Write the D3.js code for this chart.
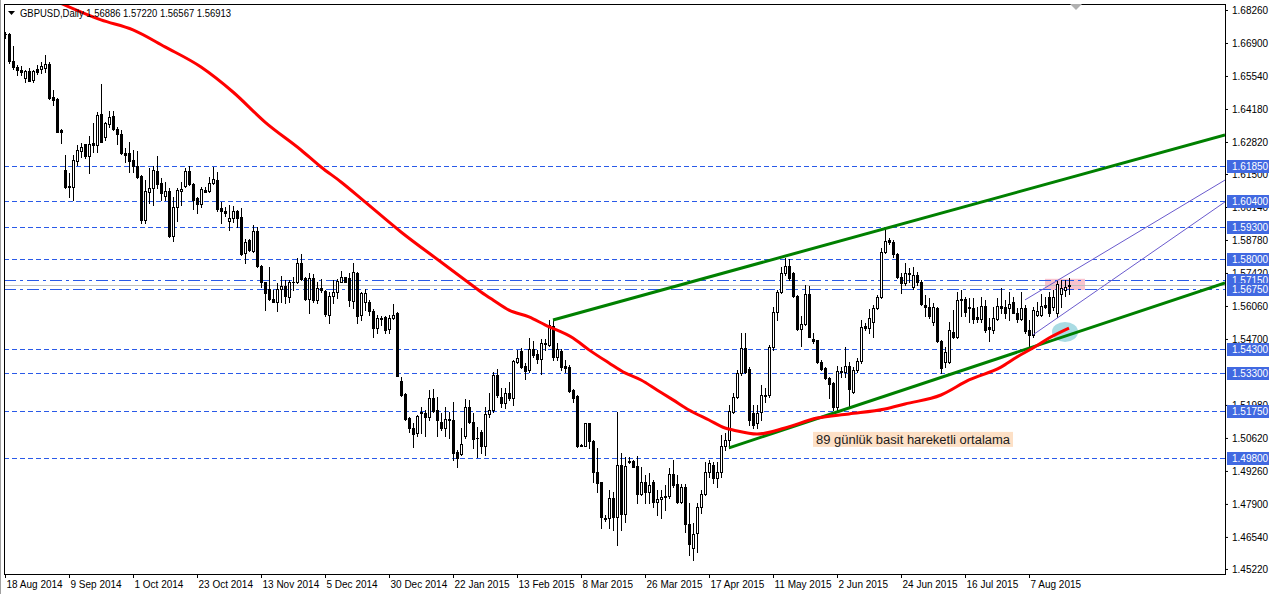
<!DOCTYPE html>
<html><head><meta charset="utf-8">
<script src="https://cdn.jsdelivr.net/npm/d3@7"></script>
<style>body{margin:0;background:#fff;overflow:hidden}svg{display:block}</style>
</head><body><div id="chart"></div>
<script>
const symbolTitle = "GBPUSD,Daily";
const open = [1.6729,1.6727,1.6616,1.6591,1.6579,1.6544,1.6575,1.6536,1.6582,1.6582,
1.6587,1.6603,1.6467,1.6460,1.6331,1.6167,1.6100,1.6097,1.6204,1.6246,
1.6274,1.6225,1.6278,1.6270,1.6397,1.6301,1.6357,1.6389,1.6334,1.6315,
1.6238,1.6238,1.6208,1.6183,1.6143,1.5960,1.6077,1.6091,1.6164,1.6113,
1.6061,1.6081,1.5895,1.6015,1.6081,1.6100,1.6162,1.6109,1.6051,1.6025,
1.6084,1.6079,1.6112,1.6125,1.6010,1.5998,1.5957,1.5967,1.5998,1.5974,
1.5823,1.5878,1.5834,1.5915,1.5770,1.5703,1.5675,1.5635,1.5624,1.5675,
1.5689,1.5642,1.5704,1.5703,1.5785,1.5722,1.5635,1.5722,1.5631,1.5681,
1.5668,1.5568,1.5647,1.5663,1.5706,1.5724,1.5720,1.5628,1.5743,1.5567,
1.5621,1.5622,1.5587,1.5515,1.5556,1.5561,1.5511,1.5556,1.5579,1.5297,
1.5243,1.5146,1.5103,1.5082,1.5164,1.5166,1.5150,1.5226,1.5177,1.5126,
1.5105,1.5136,1.5136,1.5004,1.4994,1.5070,1.5188,1.5129,1.5062,1.5085,
1.5030,1.5160,1.5177,1.5322,1.5232,1.5207,1.5246,1.5228,1.5376,1.5421,
1.5359,1.5342,1.5427,1.5408,1.5387,1.5448,1.5446,1.5524,1.5397,1.5421,
1.5359,1.5354,1.5260,1.5235,1.5034,1.5030,1.5123,1.5050,1.4921,1.4880,
1.4731,1.4731,1.4816,1.4735,1.4949,1.4747,1.4962,1.4967,1.4946,1.4833,
1.4879,1.4840,1.4879,1.4799,1.4809,1.4817,1.4821,1.4912,1.4872,1.4799,
1.4858,1.4706,1.4610,1.4669,1.4776,1.4833,1.4922,1.4950,1.4898,1.4921,
1.5027,1.5054,1.5170,1.5230,1.5331,1.5432,1.5345,1.5165,1.5124,1.5170,
1.5235,1.5239,1.5436,1.5580,1.5665,1.5741,1.5771,1.5743,1.5647,1.5510,
1.5530,1.5655,1.5471,1.5466,1.5376,1.5349,1.5308,1.5287,1.5191,1.5338,
1.5333,1.5359,1.5250,1.5342,1.5379,1.5524,1.5515,1.5540,1.5597,1.5642,
1.5827,1.5878,1.5871,1.5819,1.5727,1.5700,1.5743,1.5685,1.5734,1.5706,
1.5610,1.5603,1.5541,1.5597,1.5460,1.5376,1.5376,1.5497,1.5480,1.5634,
1.5634,1.5601,1.5597,1.5561,1.5552,1.5606,1.5518,1.5507,1.5552,1.5606,
1.5601,1.5597,1.5624,1.5579,1.5552,1.5597,1.5507,1.5486,1.5570,1.5570,
1.5610,1.5645,1.5603,1.5576,1.5655,1.5672,1.56886];
const high = [1.6735,1.6731,1.6678,1.6599,1.6595,1.6579,1.6588,1.6579,1.6599,1.6613,
1.6640,1.6610,1.6496,1.6465,1.6336,1.6228,1.6154,1.6228,1.6270,1.6278,
1.6274,1.6308,1.6360,1.6406,1.6521,1.6365,1.6411,1.6411,1.6345,1.6331,
1.6256,1.6283,1.6247,1.6245,1.6147,1.6125,1.6174,1.6182,1.6224,1.6132,
1.6118,1.6091,1.6056,1.6091,1.6118,1.6173,1.6183,1.6112,1.6056,1.6095,
1.6095,1.6137,1.6180,1.6157,1.6036,1.6015,1.6022,1.6018,1.6002,1.6010,
1.5882,1.5882,1.5940,1.5933,1.5774,1.5705,1.5768,1.5672,1.5701,1.5730,
1.5713,1.5713,1.5726,1.5802,1.5820,1.5727,1.5740,1.5738,1.5706,1.5717,
1.5672,1.5665,1.5713,1.5716,1.5751,1.5726,1.5740,1.5782,1.5747,1.5665,
1.5677,1.5631,1.5593,1.5570,1.5565,1.5565,1.5570,1.5615,1.5581,1.5315,
1.5246,1.5150,1.5124,1.5158,1.5191,1.5177,1.5260,1.5263,1.5232,1.5164,
1.5191,1.5171,1.5209,1.5012,1.5103,1.5221,1.5218,1.5164,1.5109,1.5093,
1.5191,1.5246,1.5335,1.5345,1.5267,1.5267,1.5293,1.5383,1.5425,1.5432,
1.5370,1.5472,1.5460,1.5425,1.5468,1.5468,1.5548,1.5548,1.5452,1.5427,
1.5383,1.5363,1.5264,1.5239,1.5038,1.5125,1.5125,1.5054,1.5019,1.4882,
1.4744,1.4847,1.4841,1.5167,1.5001,1.4984,1.4984,1.4971,1.4988,1.4944,
1.4909,1.4916,1.4889,1.4847,1.4847,1.4868,1.4937,1.4971,1.4909,1.4874,
1.4874,1.4792,1.4710,1.4792,1.4847,1.4964,1.4971,1.4964,1.4964,1.5075,
1.5082,1.5198,1.5248,1.5342,1.5494,1.5494,1.5355,1.5198,1.5198,1.5280,
1.5267,1.5445,1.5603,1.5672,1.5768,1.5802,1.5798,1.5747,1.5651,1.5563,
1.5693,1.5689,1.5494,1.5466,1.5383,1.5356,1.5315,1.5294,1.5360,1.5356,
1.5438,1.5376,1.5356,1.5390,1.5548,1.5535,1.5593,1.5611,1.5651,1.5844,
1.5923,1.5885,1.5878,1.5823,1.5741,1.5782,1.5761,1.5768,1.5747,1.5713,
1.5651,1.5638,1.5617,1.5601,1.5466,1.5438,1.5541,1.5589,1.5665,1.5670,
1.5645,1.5638,1.5638,1.5603,1.5645,1.5631,1.5556,1.5603,1.5638,1.5680,
1.5631,1.5665,1.5645,1.5597,1.5665,1.5610,1.5548,1.5603,1.5624,1.5655,
1.5645,1.5665,1.5672,1.5709,1.5713,1.5713,1.57220];
const low = [1.6711,1.6608,1.6583,1.6558,1.6558,1.6530,1.6533,1.6530,1.6561,1.6565,
1.6572,1.6459,1.6435,1.6322,1.6278,1.6091,1.6055,1.6043,1.6187,1.6220,
1.6216,1.6155,1.6242,1.6242,1.6281,1.6290,1.6345,1.6331,1.6273,1.6234,
1.6201,1.6159,1.6159,1.6135,1.5947,1.5947,1.6029,1.6022,1.6091,1.6043,
1.6043,1.5890,1.5873,1.5956,1.6022,1.6097,1.6105,1.6006,1.5988,1.6013,
1.6075,1.6077,1.6109,1.5998,1.5947,1.5977,1.5919,1.5953,1.5933,1.5816,
1.5784,1.5833,1.5830,1.5768,1.5685,1.5589,1.5631,1.5624,1.5584,1.5624,
1.5620,1.5624,1.5672,1.5701,1.5713,1.5631,1.5576,1.5624,1.5617,1.5665,
1.5563,1.5536,1.5617,1.5638,1.5703,1.5703,1.5605,1.5597,1.5535,1.5548,
1.5589,1.5570,1.5480,1.5494,1.5528,1.5496,1.5494,1.5552,1.5318,1.5235,
1.5136,1.5088,1.5026,1.5068,1.5082,1.5068,1.5136,1.5170,1.5068,1.5095,
1.5068,1.5061,1.4971,1.4943,1.4992,1.5061,1.5125,1.5019,1.4984,1.4999,
1.4992,1.5150,1.5170,1.5230,1.5191,1.5184,1.5218,1.5198,1.5372,1.5350,
1.5303,1.5335,1.5397,1.5370,1.5326,1.5425,1.5439,1.5383,1.5383,1.5342,
1.5335,1.5253,1.5211,1.5024,1.5027,1.5027,1.5019,1.4882,1.4841,1.4690,
1.4721,1.4690,1.4683,1.4621,1.4683,1.4717,1.4958,1.4941,1.4792,1.4826,
1.4795,1.4792,1.4778,1.4744,1.4731,1.4765,1.4813,1.4861,1.4792,1.4792,
1.4675,1.4580,1.4559,1.4593,1.4751,1.4826,1.4903,1.4878,1.4861,1.4903,
1.5012,1.5019,1.5164,1.5226,1.5322,1.5329,1.5115,1.5101,1.5103,1.5136,
1.5211,1.5232,1.5425,1.5548,1.5658,1.5734,1.5713,1.5645,1.5507,1.5439,
1.5528,1.5477,1.5452,1.5370,1.5342,1.5303,1.5226,1.5177,1.5170,1.5315,
1.5315,1.5191,1.5246,1.5335,1.5372,1.5507,1.5494,1.5480,1.5593,1.5638,
1.5823,1.5862,1.5809,1.5720,1.5661,1.5693,1.5706,1.5678,1.5693,1.5610,
1.5563,1.5556,1.5528,1.5456,1.5329,1.5356,1.5370,1.5473,1.5473,1.5563,
1.5563,1.5541,1.5536,1.5541,1.5541,1.5500,1.5460,1.5494,1.5548,1.5576,
1.5556,1.5548,1.5576,1.5541,1.5548,1.5494,1.5432,1.5480,1.5563,1.5563,
1.5597,1.5563,1.5589,1.5561,1.5601,1.5647,1.56567];
const close = [1.6726,1.6614,1.6589,1.6579,1.6570,1.6573,1.6535,1.6573,1.6572,1.6595,
1.6603,1.6465,1.6456,1.6324,1.6322,1.6095,1.6098,1.6208,1.6249,1.6261,
1.6225,1.6274,1.6270,1.6393,1.6283,1.6361,1.6383,1.6334,1.6313,1.6237,
1.6230,1.6205,1.6183,1.6139,1.5960,1.6081,1.6092,1.6167,1.6109,1.6071,
1.6081,1.5894,1.6013,1.6084,1.6087,1.6162,1.6108,1.6043,1.6025,1.6087,
1.6077,1.6112,1.6128,1.6006,1.5996,1.5988,1.5967,1.5998,1.5970,1.5820,
1.5869,1.5837,1.5915,1.5772,1.5703,1.5660,1.5635,1.5624,1.5675,1.5689,
1.5649,1.5703,1.5706,1.5785,1.5719,1.5635,1.5722,1.5631,1.5681,1.5672,
1.5573,1.5647,1.5663,1.5710,1.5726,1.5706,1.5631,1.5745,1.5565,1.5660,
1.5660,1.5584,1.5515,1.5556,1.5552,1.5507,1.5556,1.5570,1.5319,1.5239,
1.5140,1.5103,1.5079,1.5154,1.5171,1.5150,1.5226,1.5174,1.5136,1.5105,
1.5140,1.5140,1.5001,1.4980,1.5036,1.5188,1.5129,1.5056,1.5061,1.5030,
1.5160,1.5177,1.5322,1.5239,1.5207,1.5246,1.5228,1.5379,1.5390,1.5354,
1.5339,1.5427,1.5404,1.5387,1.5452,1.5452,1.5528,1.5397,1.5427,1.5356,
1.5352,1.5257,1.5228,1.5027,1.5030,1.5123,1.5050,1.4921,1.4878,1.4735,
1.4727,1.4816,1.4735,1.4949,1.4747,1.4946,1.4967,1.4944,1.4833,1.4881,
1.4838,1.4868,1.4799,1.4809,1.4817,1.4821,1.4912,1.4868,1.4799,1.4858,
1.4706,1.4624,1.4665,1.4776,1.4833,1.4922,1.4957,1.4898,1.4921,1.5027,
1.5054,1.5174,1.5230,1.5331,1.5432,1.5335,1.5136,1.5115,1.5165,1.5239,
1.5239,1.5436,1.5580,1.5665,1.5741,1.5771,1.5720,1.5647,1.5510,1.5530,
1.5655,1.5480,1.5460,1.5376,1.5346,1.5308,1.5283,1.5191,1.5338,1.5333,
1.5359,1.5264,1.5342,1.5379,1.5521,1.5515,1.5556,1.5597,1.5642,1.5827,
1.5874,1.5871,1.5819,1.5727,1.5700,1.5741,1.5738,1.5734,1.5706,1.5613,
1.5601,1.5563,1.5603,1.5460,1.5350,1.5417,1.5507,1.5480,1.5631,1.5629,
1.5583,1.5597,1.5552,1.5552,1.5606,1.5507,1.5510,1.5556,1.5606,1.5597,
1.5579,1.5613,1.5579,1.5552,1.5597,1.5503,1.5486,1.5589,1.5586,1.5606,
1.5603,1.5579,1.5644,1.5695,1.5679,1.5686,1.56913];

const dateTickBars = [0,16,32,48,64,80,96,112,128,144,160,176,192,208,224,240,256];
const dateTickLabels = ["18 Aug 2014","9 Sep 2014","1 Oct 2014","23 Oct 2014","13 Nov 2014","5 Dec 2014","30 Dec 2014","22 Jan 2015","13 Feb 2015","8 Mar 2015","26 Mar 2015","17 Apr 2015","11 May 2015","2 Jun 2015","24 Jun 2015","16 Jul 2015","7 Aug 2015"];
const priceTicks = [1.68260,1.66900,1.65540,1.64180,1.62820,1.61500,1.60140,1.58780,1.57420,1.56060,1.54700,1.51980,1.50620,1.49260,1.47900,1.46540,1.45220];
const levels = [1.6185,1.6040,1.5930,1.5800,1.5715,1.5675,1.5430,1.5330,1.5175,1.4980];
const dashDotLevels = [1.5715,1.5675];

const maBars = [14,24,32,40,49,57,65,74,79,84,90,99,109,115,119,122,126,131,135,142,146,151,155,159,163,167,171,176,180,182,188,195,203,211,220,225,234,241,249,253,257,261,266];
const maValues = [1.6853,1.6785,1.6744,1.6674,1.6591,1.6488,1.6364,1.6249,1.6179,1.6117,1.6035,1.5911,1.5787,1.5713,1.5664,1.5631,1.5589,1.5561,1.5528,1.5474,1.5425,1.5371,1.5330,1.5301,1.5260,1.5219,1.5177,1.5136,1.5103,1.5095,1.5078,1.5103,1.5144,1.5161,1.5181,1.5202,1.5239,1.5301,1.5354,1.5396,1.5433,1.5474,1.5515];

const trendUpper = [[137,1.5548],[220,1.5925]];
const trendLower = [[181,1.5021],[256,1.5432]];
const channelUpper = [[255,1.5631],[305,1.6125]];
const channelLower = [[257,1.5487],[305,1.6035]];
const zoneBars = [260,270];
const zonePrices = [1.5718,1.5672];
const ellipseAt = [265,1.5499];
const noteText = "89 günlük basit hareketli ortalama";
const noteAt = [202,1.5087];

const W = 1270, H = 594;
const L = 4, R = 1225, T = 4, B = 574;
const svg = d3.select("#chart").append("svg").attr("width", W).attr("height", H)
  .style("font-family", "'Liberation Sans', Arial, sans-serif");
svg.append("rect").attr("width", W).attr("height", H).attr("fill", "#fff");

const x = d3.scaleLinear().domain([0, 305]).range([5, 1225]);
const y = d3.scaleLinear().domain([1.45012, 1.68507]).range([B, T]);

svg.append("clipPath").attr("id", "plot").append("rect")
  .attr("x", L).attr("y", T).attr("width", R - L).attr("height", B - T);
const g = svg.append("g").attr("clip-path", "url(#plot)");

// pink zone & ellipse (background objects)
g.append("rect").attr("x", x(zoneBars[0])).attr("y", y(zonePrices[0]))
  .attr("width", x(zoneBars[1]) - x(zoneBars[0])).attr("height", y(zonePrices[1]) - y(zonePrices[0]))
  .attr("fill", "#f9c3cf");
g.append("ellipse").attr("cx", x(ellipseAt[0])).attr("cy", y(ellipseAt[1]))
  .attr("rx", 13).attr("ry", 10).attr("fill", "#a9dbe3");

// horizontal levels
const lg = g.append("g").attr("shape-rendering", "crispEdges");
levels.forEach(v => {
  const yy = Math.round(y(v)) + 0.5;
  lg.append("line").attr("x1", L).attr("x2", R).attr("y1", yy).attr("y2", yy)
    .attr("stroke", "#2a5ae8").attr("stroke-width", 1)
    .attr("stroke-dasharray", dashDotLevels.includes(v) ? "12,4,3,4" : "5,3");
});
// bid line
{ const yy = Math.round(y(close[close.length - 1])) + 0.5;
  lg.append("line").attr("x1", L).attr("x2", R).attr("y1", yy).attr("y2", yy)
    .attr("stroke", "#c0c0c0").attr("stroke-width", 1); }

// candles
const cg = g.append("g").attr("shape-rendering", "crispEdges");
open.forEach((o, i) => {
  const c = close[i];
  const cx = Math.round(x(i));
  const yh = Math.round(y(Math.max(high[i], o, c)));
  const yl = Math.round(y(Math.min(low[i], o, c)));
  const yt = Math.round(y(Math.max(o, c)));
  const yb = Math.round(y(Math.min(o, c)));
  cg.append("rect").attr("x", cx).attr("y", yh).attr("width", 1).attr("height", Math.max(1, yl - yh + 1)).attr("fill", "#000");
  cg.append("rect").attr("x", cx - 1).attr("y", yt).attr("width", 3).attr("height", Math.max(1, yb - yt + 1)).attr("fill", "#000");
  if (c > o && yb - yt >= 2) {
    cg.append("rect").attr("x", cx).attr("y", yt + 1).attr("width", 1).attr("height", yb - yt - 1).attr("fill", "#fff");
  }
});

// trend lines
function ray(pts, toBar) {
  const [b0, p0] = pts[0], [b1, p1] = pts[1];
  const s = (p1 - p0) / (b1 - b0);
  return [[x(b0), y(p0)], [x(toBar), y(p0 + s * (toBar - b0))]];
}
[trendUpper, trendLower].forEach(t => {
  const r = ray(t, 305);
  g.append("line").attr("x1", r[0][0]).attr("y1", r[0][1]).attr("x2", r[1][0]).attr("y2", r[1][1])
    .attr("stroke", "#008000").attr("stroke-width", 3);
});
[channelUpper, channelLower].forEach(t => {
  g.append("line").attr("x1", x(t[0][0])).attr("y1", y(t[0][1])).attr("x2", x(t[1][0])).attr("y2", y(t[1][1]))
    .attr("stroke", "#6a5acd").attr("stroke-width", 1);
});

// moving average
const maLine = d3.line().x(d => x(d[0])).y(d => y(d[1])).curve(d3.curveMonotoneX);
g.append("path").datum(maBars.map((b, i) => [b, maValues[i]]))
  .attr("d", maLine).attr("fill", "none").attr("stroke", "#ff0000").attr("stroke-width", 3);

// note
const nx = x(noteAt[0]), ny = y(noteAt[1]);
const note = svg.append("g");
note.append("rect").attr("x", nx).attr("y", ny).attr("width", 200).attr("height", 15).attr("fill", "#fde0c6");
note.append("text").attr("x", nx + 3).attr("y", ny + 12).attr("font-size", 12).attr("fill", "#1a1a1a")
  .attr("textLength", 194).attr("lengthAdjust", "spacingAndGlyphs").text(noteText);

// frame
svg.append("line").attr("x1", 0.5).attr("x2", 0.5).attr("y1", 0).attr("y2", H).attr("stroke", "#a0a0a0");
svg.append("rect").attr("x", L + 0.5).attr("y", T + 0.5).attr("width", R - L).attr("height", B - T)
  .attr("fill", "none").attr("stroke", "#000").attr("shape-rendering", "crispEdges");

// axes
const ya = svg.append("g").attr("transform", `translate(${R},0)`)
  .call(d3.axisRight(y).tickValues(priceTicks).tickFormat(d3.format(".5f")).tickSize(3).tickPadding(4));
ya.select(".domain").remove();
ya.selectAll("text").attr("font-size", 10).attr("font-family", "'Liberation Sans', Arial, sans-serif").attr("fill", "#000");

const xa = svg.append("g").attr("transform", `translate(0,${B})`)
  .call(d3.axisBottom(x).tickValues(dateTickBars).tickFormat((d, i) => dateTickLabels[i]).tickSize(4).tickPadding(3));
xa.select(".domain").remove();
xa.selectAll("text").attr("text-anchor", "start").attr("dx", 1).attr("font-size", 10)
  .attr("font-family", "'Liberation Sans', Arial, sans-serif").attr("fill", "#000");

// level labels on price axis
levels.forEach(v => {
  const yy = Math.round(y(v));
  svg.append("rect").attr("x", R + 2).attr("y", yy - 6).attr("width", 42).attr("height", 13).attr("fill", "#4169e1");
  svg.append("text").attr("x", R + 7).attr("y", yy + 4).attr("font-size", 10).attr("fill", "#fff").text(v.toFixed(5));
});

// header
svg.append("polygon").attr("points", "8,11 15,11 11.5,15").attr("fill", "#000");
svg.append("text").attr("x", 20).attr("y", 17).attr("font-size", 11).attr("fill", "#000")
  .attr("textLength", 211).attr("lengthAdjust", "spacingAndGlyphs")
  .text(`${symbolTitle} ${open[open.length-1].toFixed(5)} ${high[high.length-1].toFixed(5)} ${low[low.length-1].toFixed(5)} ${close[close.length-1].toFixed(5)}`);
svg.append("polygon").attr("points", "1070,4 1082,4 1076,10").attr("fill", "#b0b0b0");
</script>
</body></html>
